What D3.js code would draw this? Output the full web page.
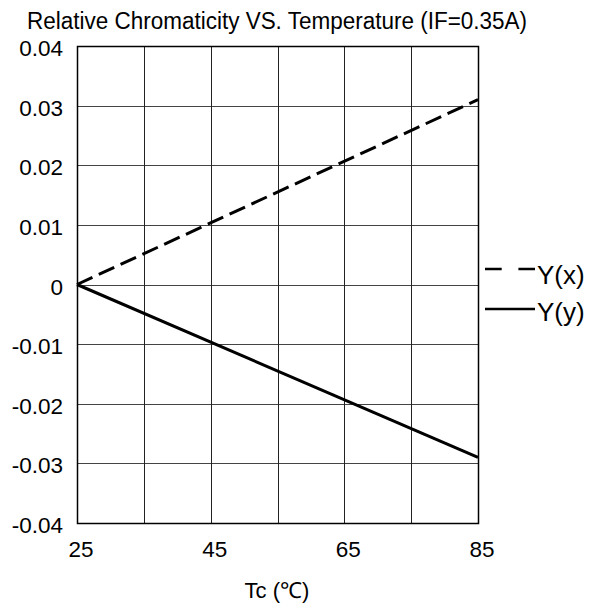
<!DOCTYPE html>
<html><head><meta charset="utf-8">
<script src="https://cdn.jsdelivr.net/npm/d3@7"></script>
<style>body{margin:0;background:#fff}svg{display:block}text{font-family:"Liberation Sans",Arial,sans-serif;fill:#000}</style>
</head><body>
<svg id="c" width="600" height="608"></svg>
<script>
const title = "Relative Chromaticity VS. Temperature (IF=0.35A)";
const xLabel = "Tc (\u2103)";
const temps = [25, 85];
const yxValues = [0, 0.031];
const yyValues = [0, -0.029];
const seriesNames = ["Y(x)", "Y(y)"];
const xTickLabels = [25, 45, 65, 85];
const xGrid = [25, 35, 45, 55, 65, 75, 85];
const yTicks = [0.04, 0.03, 0.02, 0.01, 0, -0.01, -0.02, -0.03, -0.04];

const svg = d3.select("#c");
const L = 77, R = 478, T = 46, B = 523;
const x = d3.scaleLinear().domain([25, 85]).range([L, R]);
const y = d3.scaleLinear().domain([-0.04, 0.04]).range([B, T]);

svg.append("text").attr("x", 27).attr("y", 29).attr("font-size", 23)
  .attr("textLength", 500).attr("lengthAdjust", "spacingAndGlyphs").text(title);

// grid
svg.append("g").selectAll("line").data(yTicks).join("line")
  .attr("x1", L).attr("x2", R).attr("y1", d => Math.round(y(d)) + 0.5).attr("y2", d => Math.round(y(d)) + 0.5)
  .attr("stroke", "#444").attr("stroke-width", 1);
svg.append("g").selectAll("line").data(xGrid).join("line")
  .attr("y1", T).attr("y2", B).attr("x1", d => Math.round(x(d)) + 0.5).attr("x2", d => Math.round(x(d)) + 0.5)
  .attr("stroke", "#222").attr("stroke-width", 1);
svg.append("rect").attr("x", L + 0.5).attr("y", T + 0.5).attr("width", R - L).attr("height", B - T)
  .attr("fill", "none").attr("stroke", "#000").attr("stroke-width", 1.5);

// axes labels
const fmtY = d => d === 0 ? "0" : d3.format(".2f")(d).replace("\u2212", "-");
svg.append("g").selectAll("text").data(yTicks).join("text")
  .attr("x", 63).attr("y", d => y(d) + 10).attr("text-anchor", "end").attr("font-size", 22.5)
  .text(fmtY);
svg.append("g").selectAll("text").data(xTickLabels).join("text")
  .attr("x", d => x(d) + 4).attr("y", 557).attr("text-anchor", "middle").attr("font-size", 22.5)
  .text(d => d);
svg.append("text").attr("x", 277).attr("y", 598).attr("text-anchor", "middle").attr("font-size", 22)
  .text(xLabel);

// lines
const line = d3.line().x(d => x(d[0])).y(d => y(d[1]));
svg.append("path").datum(temps.map((t, i) => [t, yxValues[i]])).attr("d", line)
  .attr("fill", "none").attr("stroke", "#000").attr("stroke-width", 3).attr("stroke-dasharray", "17,7");
svg.append("path").datum(temps.map((t, i) => [t, yyValues[i]])).attr("d", line)
  .attr("fill", "none").attr("stroke", "#000").attr("stroke-width", 3);

// legend
svg.append("line").attr("x1", 485).attr("x2", 535).attr("y1", 269).attr("y2", 269)
  .attr("stroke", "#000").attr("stroke-width", 2.5).attr("stroke-dasharray", "16.7,16.7");
svg.append("text").attr("x", 537).attr("y", 284).attr("font-size", 26).text(seriesNames[0]);
svg.append("line").attr("x1", 485).attr("x2", 535).attr("y1", 309).attr("y2", 309)
  .attr("stroke", "#000").attr("stroke-width", 2.5);
svg.append("text").attr("x", 537).attr("y", 321).attr("font-size", 26).text(seriesNames[1]);
</script>
</body></html>
